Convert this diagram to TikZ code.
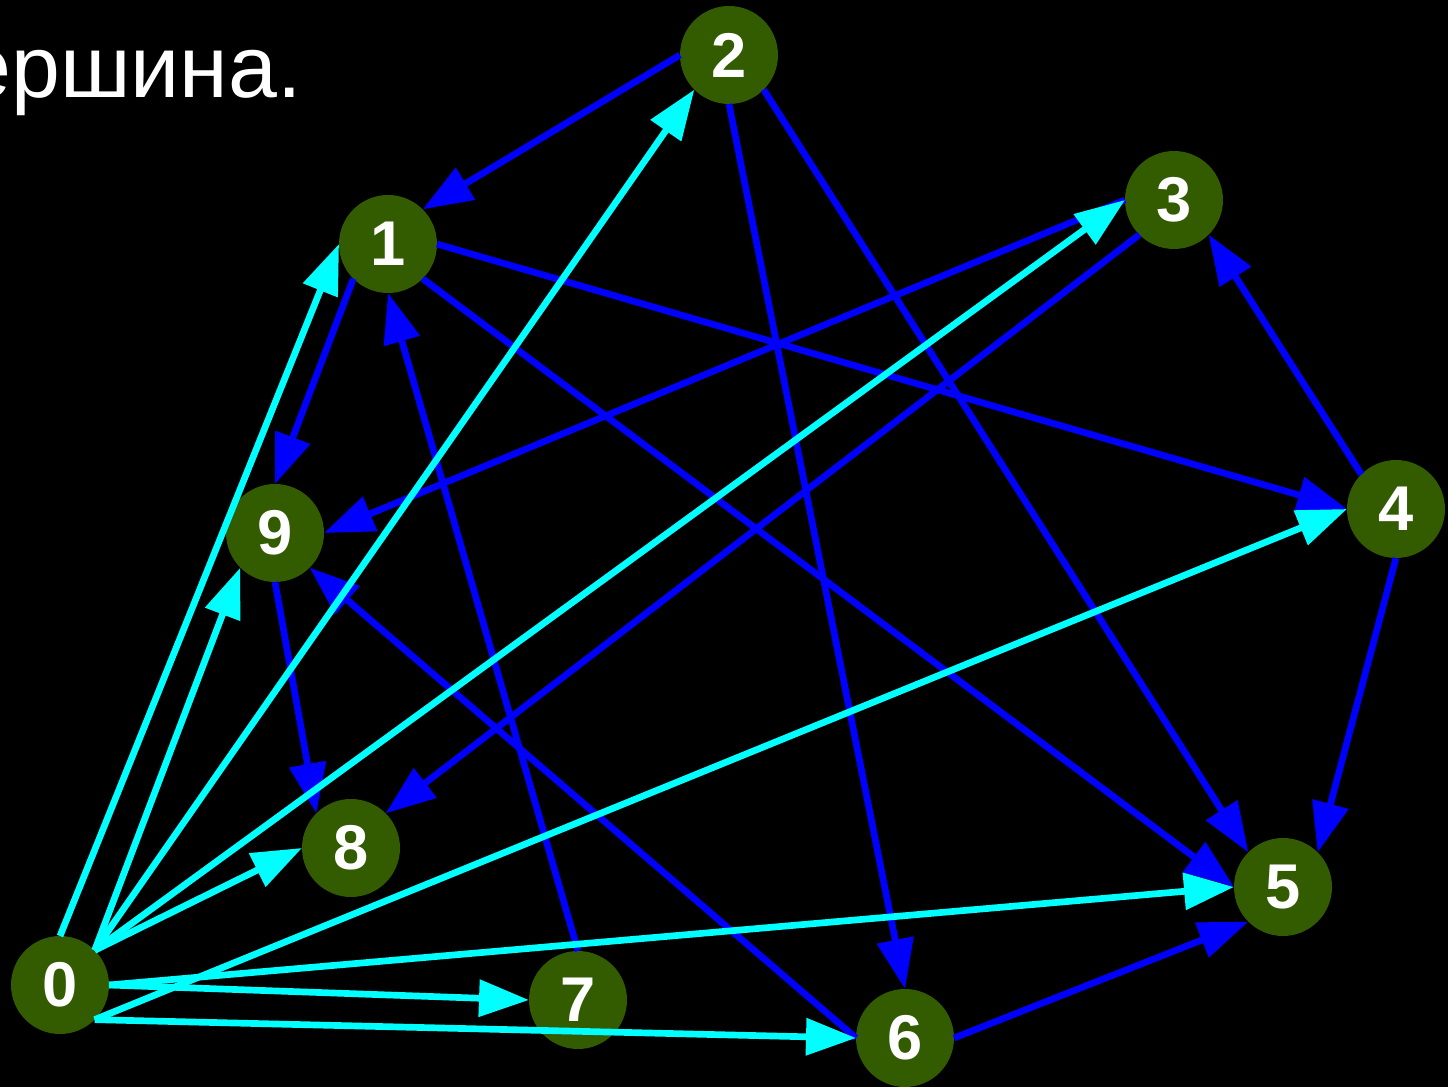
\documentclass[tikz,border=0pt]{standalone}
\usepackage{fontspec}
\setmainfont{Liberation Sans}
\usepackage{xcolor}
\usetikzlibrary{arrows.meta}
\definecolor{vertcolor}{RGB}{51,92,0}
\definecolor{zerocolor}{RGB}{0,255,255}
\definecolor{edgecolor}{RGB}{0,0,255}

\begin{document}
\begin{tikzpicture}[
  x=0.02cm, y=-0.02cm,
  vert/.style={circle, fill=vertcolor, minimum size=1.96cm, inner sep=0pt, outer sep=0pt, text=white, font=\fontsize{36}{40}\selectfont\bfseries},
  arr/.style={-{Triangle[length=1cm, width=0.72cm]}, line width=3.8pt},
  lbl/.style={font=\fontsize{50}{56}\selectfont, text=white, inner sep=0pt},
]
\fill[black] (0,0) rectangle (1448,1087);
\useasboundingbox (0,0) rectangle (1448,1087);
% Title (cut at the left edge)
\node[lbl, anchor=base east] (title) at (302,98) {ершина.};
% Vertices
\foreach \n/\x/\y in {0/60/985, 1/388/244, 2/729/55, 3/1174/200, 4/1396/509, 5/1283/887, 6/905/1038, 7/578/1000, 8/351/848, 9/275/533} {
  \node[vert] (v\n) at (\x,\y) {\n};
}
% Edges between the other vertices
\foreach \a/\b in {2.180/1.45, 2.-90/6.90, 2.-45/5.135, 1.-135/9.90, 1.0/4.180, 1.-45/5.180, 3.180/9.0, 3.-135/8.45, 4.135/3.-45, 4.-90/5.45, 6.0/5.-135, 7.90/1.-90, 6.180/9.-45, 9.-90/8.135} {
  \draw[arr, edgecolor] (v\a) -- (v\b);
}
% Edges from vertex 0
\foreach \a/\b in {90/1.180, 45/9.-135, 45/2.-135, 45/3.180, 45/8.180, -45/4.180, 0/5.180, 0/7.180, -45/6.180} {
  \draw[arr, zerocolor] (v0.\a) -- (v\b);
}
\end{tikzpicture}
\end{document}
